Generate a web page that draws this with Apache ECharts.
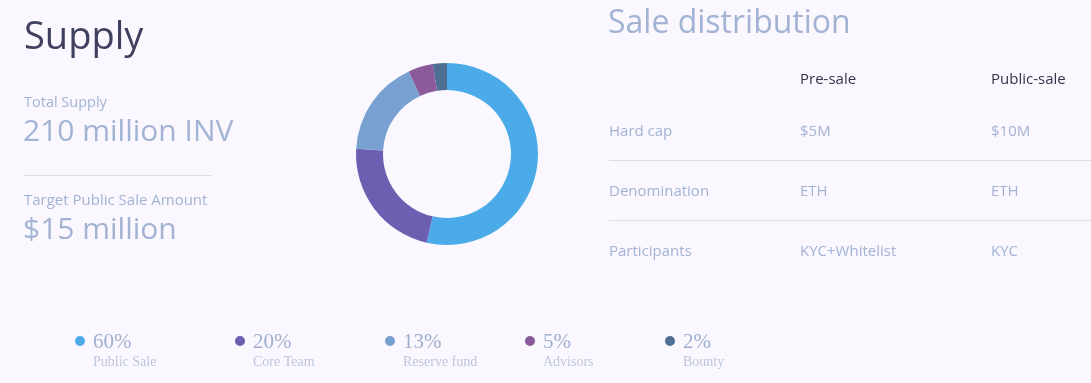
<!DOCTYPE html>
<html><head><meta charset="utf-8">
<script src="https://cdn.jsdelivr.net/npm/echarts@6/dist/echarts.min.js"></script>
<style>html,body{margin:0;padding:0;background:#faf8fe;}#c{width:1091px;height:383px;}</style>
</head><body><div id="c"></div>
<script>
var categories = ['Public Sale', 'Core Team', 'Reserve fund', 'Advisors', 'Bounty'];
var legendPercents = ['60%', '20%', '13%', '5%', '2%'];
var sliceValues = [53.6, 22.3, 17.2, 4.4, 2.5];
var colors = ['#4aabe8', '#6c5fb1', '#78a0d1', '#8a5a9b', '#4e6f91'];
var tableColumns = ['Pre-sale', 'Public-sale'];
var tableRows = ['Hard cap', 'Denomination', 'Participants'];
var preSale = ['$5M', 'ETH', 'KYC+Whitelist'];
var publicSale = ['$10M', 'ETH', 'KYC'];
var supplyStats = [['Total Supply', '210 million INV'], ['Target Public Sale Amount', '$15 million']];

var font = '"Open Sans", Roboto, sans-serif';
var serif = '"Liberation Serif", "DejaVu Serif", serif';
var light = '#a2b3d4';
var g = [];
function txt(x, y, s, size, color, fam) {
  g.push({type: 'text', x: x, y: y, silent: true,
    style: {text: s, fontSize: size, fill: color, fontFamily: fam || font, verticalAlign: 'middle', align: 'left'}});
}
txt(24, 38, 'Supply', 38, '#3f3f5e');
txt(24, 102.5, supplyStats[0][0], 14.5, light);
txt(23, 132, supplyStats[0][1], 30, light);
g.push({type: 'line', silent: true, shape: {x1: 24, y1: 175.5, x2: 212, y2: 175.5}, style: {stroke: '#dcdce4', lineWidth: 1}});
txt(24, 201, supplyStats[1][0], 15, light);
txt(23, 230, supplyStats[1][1], 30, light);

txt(608, 24, 'Sale distribution', 32, light);
var colX = [800, 991];
tableColumns.forEach(function (c, i) { txt(colX[i], 79.5, c, 15, '#34344a'); });
var rowY = [131.5, 191.5, 251.5];
tableRows.forEach(function (r, i) {
  txt(609, rowY[i], r, 15, light);
  txt(colX[0], rowY[i], preSale[i], 15, light);
  txt(colX[1], rowY[i], publicSale[i], 15, light);
});
[160.5, 220.5].forEach(function (y) {
  g.push({type: 'line', silent: true, shape: {x1: 609, y1: y, x2: 1091, y2: y}, style: {stroke: '#dcdce4', lineWidth: 1}});
});

var legX = [80, 240, 390, 530, 670];
categories.forEach(function (c, i) {
  g.push({type: 'circle', silent: true, shape: {cx: legX[i], cy: 341, r: 5}, style: {fill: colors[i]}});
  txt(legX[i] + 13, 342, legendPercents[i], 21, '#9fafd0', serif);
  txt(legX[i] + 13, 362, c, 14, '#bcc6de', serif);
});

var chart = echarts.init(document.getElementById('c'));
chart.setOption({
  backgroundColor: '#faf8fe',
  animation: false,
  graphic: g,
  series: [{
    type: 'pie',
    center: [447, 154],
    radius: [64, 91],
    startAngle: 90,
    clockwise: true,
    label: {show: false},
    labelLine: {show: false},
    silent: true,
    data: categories.map(function (c, i) { return {name: c, value: sliceValues[i], itemStyle: {color: colors[i]}}; })
  }]
});
</script></body></html>
